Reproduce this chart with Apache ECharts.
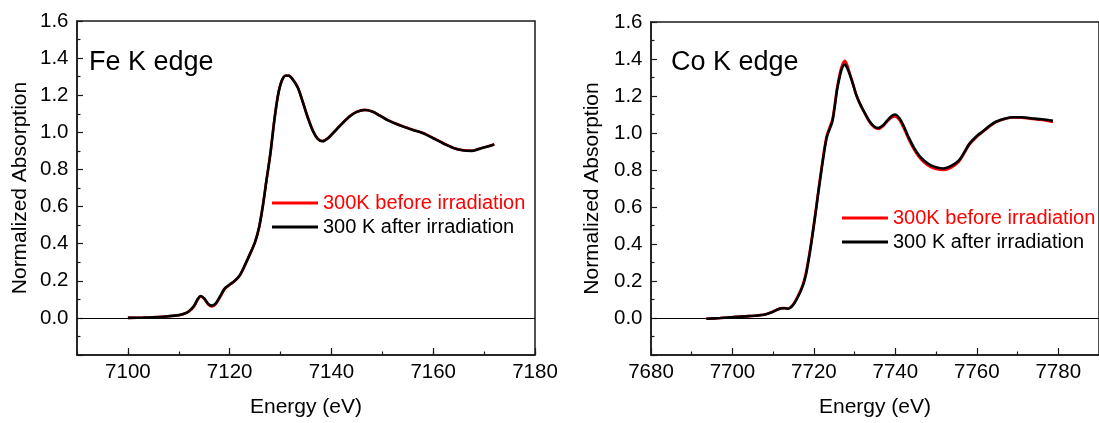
<!DOCTYPE html>
<html>
<head>
<meta charset="utf-8">
<script src="https://cdn.jsdelivr.net/npm/echarts@6/dist/echarts.min.js"></script>
<style>
  html, body { margin: 0; padding: 0; background: #fff; }
  #chart { width: 1099px; height: 423px; }
</style>
</head>
<body>
<div id="chart"></div>
<script>
// Fe K edge
var feEnergy = [7100, 7103, 7106, 7108, 7110, 7111, 7112, 7113, 7113.7, 7114.3, 7115, 7115.8, 7116.5, 7117.3, 7118.2,
  7119, 7120, 7121, 7122, 7123, 7124, 7125, 7125.8, 7126.5, 7127.2, 7128, 7128.8, 7129.5, 7130.2, 7131, 7131.6,
  7132.4, 7133.4, 7134.4, 7135.4, 7136.4, 7137.3, 7138.2, 7139.4, 7140.8, 7142.2, 7143.7, 7145, 7146.5, 7148,
  7149.5, 7151, 7152.5, 7154, 7156, 7158, 7160, 7162, 7164, 7166, 7167.5, 7169, 7170.5, 7172];
var feBefore = [0.0, 0.002, 0.005, 0.009, 0.014, 0.021, 0.034, 0.062, 0.098, 0.116, 0.102, 0.072, 0.062, 0.076, 0.116,
  0.155, 0.178, 0.199, 0.229, 0.283, 0.344, 0.41, 0.49, 0.6, 0.735, 0.885, 1.07, 1.2, 1.275, 1.306, 1.306,
  1.286, 1.242, 1.162, 1.077, 1.006, 0.966, 0.953, 0.971, 1.011, 1.051, 1.089, 1.111, 1.121, 1.113,
  1.091, 1.067, 1.049, 1.033, 1.014, 0.996, 0.969, 0.941, 0.916, 0.903, 0.901, 0.911, 0.923, 0.936];
var feAfter = [0.0, 0.002, 0.005, 0.009, 0.015, 0.022, 0.036, 0.065, 0.1, 0.118, 0.105, 0.075, 0.066, 0.08, 0.12,
  0.158, 0.18, 0.2, 0.23, 0.285, 0.345, 0.41, 0.49, 0.6, 0.735, 0.885, 1.07, 1.2, 1.275, 1.305, 1.305,
  1.285, 1.24, 1.16, 1.075, 1.005, 0.965, 0.952, 0.97, 1.01, 1.05, 1.088, 1.11, 1.12, 1.112,
  1.09, 1.066, 1.048, 1.032, 1.013, 0.995, 0.968, 0.94, 0.915, 0.902, 0.9, 0.91, 0.922, 0.935];

// Co K edge
var coEnergy = [7693.6, 7697, 7701, 7704, 7707.7, 7709.3, 7710.7, 7711.9, 7712.8, 7713.6, 7714.8, 7716.1, 7717.3,
  7718, 7718.6, 7719.2, 7719.8, 7720.5, 7721.1, 7721.8, 7722.4, 7723.2, 7724.5, 7725.1, 7725.7, 7726.4, 7727,
  7727.6, 7728.2, 7728.9, 7729.5, 7730.5, 7731.6, 7732.7, 7733.7, 7734.8, 7735.8, 7736.9, 7737.9, 7739, 7739.9,
  7741, 7742.1, 7743.3, 7744.6, 7745.8, 7747.1, 7748.5, 7750, 7751.8, 7753.7, 7755.6, 7756.9, 7758.1, 7759.8,
  7761.5, 7763.2, 7764.8, 7767, 7769, 7771, 7773.2, 7776, 7778.7];
var coBefore = [-0.004, 0.0, 0.006, 0.01, 0.018, 0.028, 0.043, 0.053, 0.054, 0.051, 0.07, 0.12, 0.182,
  0.24, 0.31, 0.39, 0.48, 0.59, 0.69, 0.8, 0.89, 0.99, 1.07, 1.15, 1.245, 1.325, 1.37,
  1.39, 1.365, 1.315, 1.272, 1.2, 1.143, 1.097, 1.058, 1.031, 1.022, 1.035, 1.06, 1.083, 1.09,
  1.07, 1.025, 0.965, 0.91, 0.87, 0.84, 0.818, 0.805, 0.8, 0.813, 0.845, 0.89, 0.935, 0.976,
  1.007, 1.037, 1.06, 1.077, 1.084, 1.083, 1.077, 1.07, 1.06];
var coAfter = [-0.004, 0.0, 0.006, 0.01, 0.018, 0.028, 0.042, 0.052, 0.053, 0.05, 0.068, 0.115, 0.175,
  0.23, 0.3, 0.38, 0.47, 0.58, 0.68, 0.79, 0.88, 0.98, 1.06, 1.14, 1.235, 1.31, 1.355,
  1.37, 1.35, 1.31, 1.27, 1.2, 1.145, 1.1, 1.062, 1.035, 1.027, 1.04, 1.065, 1.09, 1.1,
  1.08, 1.035, 0.975, 0.92, 0.88, 0.85, 0.828, 0.815, 0.808, 0.822, 0.852, 0.895, 0.94, 0.98,
  1.01, 1.04, 1.062, 1.078, 1.085, 1.085, 1.08, 1.074, 1.066];

var feTicks = [7100, 7120, 7140, 7160, 7180];
var coTicks = [7680, 7700, 7720, 7740, 7760, 7780];
var legendNames = ['300K before irradiation', '300 K after irradiation'];
var panelTitles = ['Fe K edge', 'Co K edge'];

var FONT = 'Arial, "Liberation Sans", sans-serif';
var INK = '#1a1a1a';

function pairs(xs, ys) {
  return xs.map(function (x, i) { return [x, ys[i]]; });
}

function plain(v) { return String(v); }

function yAxisFor(gridIndex, gap) {
  return {
    type: 'value', gridIndex: gridIndex, min: -0.2, max: 1.6, interval: 0.2,
    name: 'Normalized Absorption', nameLocation: 'middle', nameGap: gap,
    nameTextStyle: { fontFamily: FONT, fontSize: 21, color: '#000' },
    axisLine: { show: true, lineStyle: { color: INK, width: 1.5 } },
    axisTick: { show: true, inside: true, length: 6, lineStyle: { color: INK, width: 1.2 } },
    minorTick: { show: true, splitNumber: 2, length: 3.5, lineStyle: { color: INK, width: 1.2 } },
    axisLabel: {
      fontFamily: FONT, fontSize: 20.5, color: '#000', margin: 8.5,
      formatter: function (v) { return v < -0.01 ? '' : v.toFixed(1); }
    },
    splitLine: { show: false }
  };
}

function lineSeries(name, color, xi, yi, data, withZero) {
  var s = {
    type: 'line', name: name, xAxisIndex: xi, yAxisIndex: yi,
    data: data, showSymbol: false, smooth: 0.3,
    lineStyle: { color: color, width: 2.6 },
    itemStyle: { color: color },
    z: color === '#000000' ? 4 : 3
  };
  if (withZero) {
    s.markLine = {
      silent: true, symbol: 'none', animation: false,
      label: { show: false },
      lineStyle: { color: '#000', width: 1.2, type: 'solid', opacity: 1 },
      emphasis: { disabled: true },
      data: [{ yAxis: 0 }]
    };
  }
  return s;
}

function legendAt(left, top) {
  return {
    orient: 'vertical', left: left, top: top, padding: 0,
    itemWidth: 46, itemHeight: 3, itemGap: 4, icon: 'rect',
    textStyle: { fontFamily: FONT, fontSize: 20, color: '#000' },
    data: [
      { name: legendNames[0], textStyle: { color: '#ff0000' } },
      { name: legendNames[1], textStyle: { color: '#000' } }
    ],
    selectedMode: false
  };
}

var chart = echarts.init(document.getElementById('chart'), null, { renderer: 'canvas' });

chart.setOption({
  animation: false,
  backgroundColor: '#fff',
  title: [
    { text: panelTitles[0], left: 89, top: 49, padding: 0,
      textStyle: { fontFamily: FONT, fontSize: 27, fontWeight: 'normal', color: '#000' } },
    { text: panelTitles[1], left: 671, top: 49, padding: 0,
      textStyle: { fontFamily: FONT, fontSize: 27, fontWeight: 'normal', color: '#000' } }
  ],
  legend: [legendAt(272, 193), legendAt(842, 208)],
  grid: [
    { left: 77, width: 458, top: 21, height: 339, show: true, borderColor: INK, borderWidth: 1.5 },
    { left: 651, width: 459, top: 22, height: 339, show: true, borderColor: INK, borderWidth: 1.5 }
  ],
  xAxis: [
    {
      type: 'value', gridIndex: 0, min: 7090, max: 7180, interval: 10,
      name: 'Energy (eV)', nameLocation: 'middle', nameGap: 42,
      nameTextStyle: { fontFamily: FONT, fontSize: 21, color: '#000' },
      axisLine: { show: true, onZero: false, lineStyle: { color: INK, width: 1.5 } },
      axisTick: { show: true, inside: true, length: 7, customValues: feTicks, lineStyle: { color: INK, width: 1.2 } },
      axisLabel: { fontFamily: FONT, fontSize: 20.5, color: '#000', margin: 7, customValues: feTicks, formatter: plain },
      splitLine: { show: false }
    },
    {
      // minor ticks every 10 eV for the Fe panel
      type: 'value', gridIndex: 0, min: 7090, max: 7180, interval: 10, position: 'bottom',
      axisLine: { show: false, onZero: false },
      axisTick: { show: true, inside: true, length: 3.5, lineStyle: { color: INK, width: 1.2 } },
      axisLabel: { show: false },
      splitLine: { show: false }
    },
    {
      type: 'value', gridIndex: 1, min: 7680, max: 7790, interval: 20,
      name: 'Energy (eV)', nameLocation: 'middle', nameGap: 42,
      nameTextStyle: { fontFamily: FONT, fontSize: 21, color: '#000' },
      axisLine: { show: true, onZero: false, lineStyle: { color: INK, width: 1.5 } },
      axisTick: { show: true, inside: true, length: 7, customValues: coTicks, lineStyle: { color: INK, width: 1.2 } },
      minorTick: { show: true, splitNumber: 2, length: 3.5, lineStyle: { color: INK, width: 1.2 } },
      axisLabel: { fontFamily: FONT, fontSize: 20.5, color: '#000', margin: 7, customValues: coTicks, formatter: plain },
      splitLine: { show: false }
    }
  ],
  yAxis: [yAxisFor(0, 46), yAxisFor(1, 48)],
  series: [
    lineSeries(legendNames[0], '#ff0000', 0, 0, pairs(feEnergy, feBefore), false),
    lineSeries(legendNames[1], '#000000', 0, 0, pairs(feEnergy, feAfter), true),
    lineSeries(legendNames[0], '#ff0000', 2, 1, pairs(coEnergy, coBefore), false),
    lineSeries(legendNames[1], '#000000', 2, 1, pairs(coEnergy, coAfter), true)
  ]
});
</script>
</body>
</html>
